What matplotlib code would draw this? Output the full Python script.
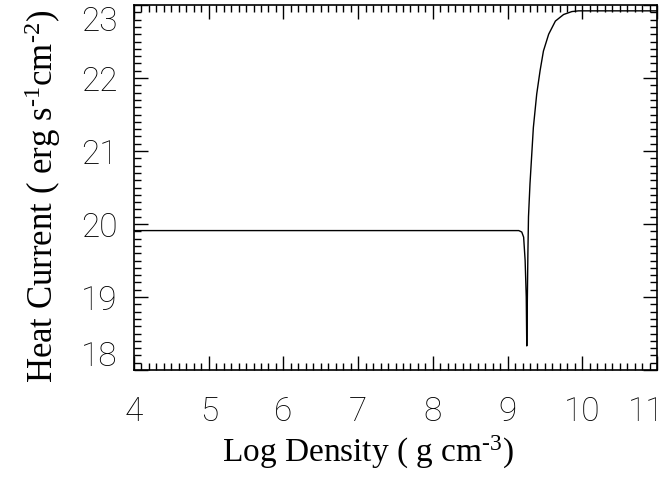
import matplotlib
matplotlib.use("Agg")
import matplotlib.pyplot as plt
from matplotlib.ticker import MultipleLocator
import matplotlib.transforms as mtransforms

plt.rcParams["mathtext.fontset"] = "custom"
plt.rcParams["mathtext.rm"] = "Liberation Serif"
plt.rcParams["mathtext.it"] = "Liberation Serif"

# Heat current profile vs. log density
log_density = [4.0, 9.15, 9.19, 9.215, 9.235, 9.25, 9.257, 9.265, 9.272, 9.28,
               9.30, 9.345, 9.39, 9.435, 9.48, 9.55, 9.64, 9.75, 9.86, 9.95,
               10.1, 11.0]
heat_current = [19.91, 19.91, 19.89, 19.82, 19.5, 19.0, 18.33, 19.0, 19.6, 20.1,
                20.55, 21.32, 21.78, 22.10, 22.37, 22.60, 22.78, 22.87, 22.91, 22.92,
                22.92, 22.92]

x_ticks = [4, 5, 6, 7, 8, 9, 10, 11]
y_ticks = [18, 19, 20, 21, 22, 23]

fig = plt.figure(figsize=(6.7, 4.91), dpi=100)
ax = fig.add_axes([0.2, 0.2464, 0.7806, 0.7434])

ax.plot(log_density, heat_current, color="black", lw=1.0)

ax.set_xlim(4, 11)
ax.set_ylim(18, 23)
ax.set_xticks(x_ticks)
ax.set_yticks(y_ticks)
ax.xaxis.set_minor_locator(MultipleLocator(0.1))
ax.yaxis.set_minor_locator(MultipleLocator(0.1))

tick_font = dict(family="Roboto", weight="light", size=24)
ax.set_xticklabels([str(v) for v in x_ticks], **tick_font)
ax.set_yticklabels([str(v) for v in y_ticks], **tick_font)

ax.tick_params(which="both", direction="in", top=True, right=True,
               color="black", width=1.0)
ax.tick_params(which="major", length=10)
ax.tick_params(which="minor", length=5)
ax.tick_params(axis="x", which="major", pad=19)
ax.tick_params(axis="y", which="major", pad=12)

for s in ax.spines.values():
    s.set_linewidth(1.2)

# keep the end labels of the y axis inside the frame
ylabels = ax.get_yticklabels()
ylabels[0].set_transform(ylabels[0].get_transform() +
                         mtransforms.ScaledTranslation(0, 12 / 72, fig.dpi_scale_trans))
ylabels[-1].set_transform(ylabels[-1].get_transform() +
                          mtransforms.ScaledTranslation(0, -10 / 72, fig.dpi_scale_trans))
# and the last x label inside the figure
xlabels = ax.get_xticklabels()
xlabels[-1].set_horizontalalignment("right")
xlabels[-1].set_transform(xlabels[-1].get_transform() +
                          mtransforms.ScaledTranslation(5 / 72, 0, fig.dpi_scale_trans))

ax.set_xlabel(r"Log Density ( g cm$^{\text{-3}}$)", family="Liberation Serif", size=24)
ax.set_ylabel(r"Heat Current ( erg s$^{\text{-1}}$cm$^{\text{-2}}$)",
              family="Liberation Serif", size=25)
ax.xaxis.set_label_coords(0.447, -0.175)
ax.yaxis.set_label_coords(-0.135, 0.475)

fig.savefig("out.png", dpi=100)
